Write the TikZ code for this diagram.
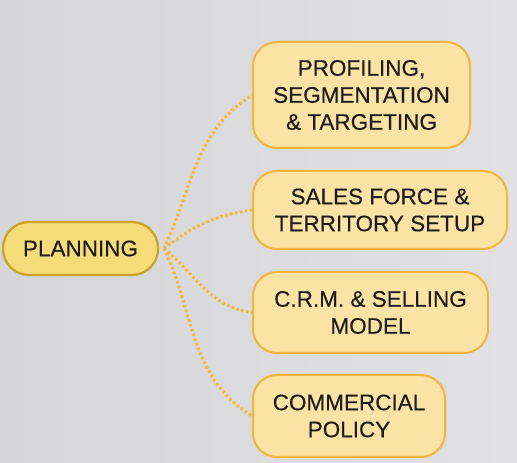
\documentclass[tikz,border=0pt]{standalone}
\usepackage{fontspec}
\setmainfont{Liberation Sans}
\newfontfamily\mapfont[FakeBold=0.35]{Liberation Sans}
\usepackage{xcolor}
\usepackage{tikz}
\usetikzlibrary{positioning}

\definecolor{bgleft}{HTML}{D6D6D9}
\definecolor{bgright}{HTML}{E1E1E3}
\definecolor{planfill}{HTML}{F6DC78}
\definecolor{planline}{HTML}{C9A227}
\definecolor{boxfill}{HTML}{FBE3A6}
\definecolor{boxline}{HTML}{F2B43A}
\definecolor{dotline}{HTML}{F4B73A}
\definecolor{ink}{HTML}{1C1C1C}

\begin{document}
\begin{tikzpicture}[x=1pt,y=1pt,
  every node/.style={font=\mapfont\fontsize{22.5}{27}\selectfont,text=ink,align=center,inner sep=0pt},
  plannode/.style={draw=planline,line width=2.2pt,fill=planfill,rounded corners=26pt},
  topicbox/.style={draw=boxline,line width=2pt,fill=boxfill,rounded corners=24pt},
  dotted link/.style={draw=dotline,line width=3pt,dash pattern=on 2.6pt off 2.4pt}]
\shade[left color=bgleft,right color=bgright] (0,0) rectangle (517,463);
\useasboundingbox (0,0) rectangle (517,463);

\node[plannode,minimum width=155pt,minimum height=53pt] (plan) at (80.5,214.5) {PLANNING};

\node[topicbox,minimum width=217pt,minimum height=106pt] (seg) at (361.5,368) {PROFILING,\\SEGMENTATION\\\& TARGETING};
\node[topicbox,minimum width=254pt,minimum height=78pt] (sales) at (380,253) {SALES FORCE \&\\TERRITORY SETUP};
\node[topicbox,minimum width=235pt,minimum height=81pt] (crm) at (370.5,150.5) {C.R.M. \& SELLING\\MODEL};
\node[topicbox,minimum width=192pt,minimum height=82pt] (policy) at (349,47) {COMMERCIAL\\POLICY};

% dotted links from the planning node
\draw[dotted link] ([xshift=5pt]plan.east) to[out=65,in=213] (seg.west);
\draw[dotted link] ([xshift=5pt]plan.east) to[out=38,in=188] (sales.west);
\draw[dotted link] ([xshift=5pt]plan.east) to[out=-40,in=172] (crm.west);
\draw[dotted link] ([xshift=5pt]plan.east) to[out=-65,in=148] (policy.west);
\end{tikzpicture}
\end{document}
